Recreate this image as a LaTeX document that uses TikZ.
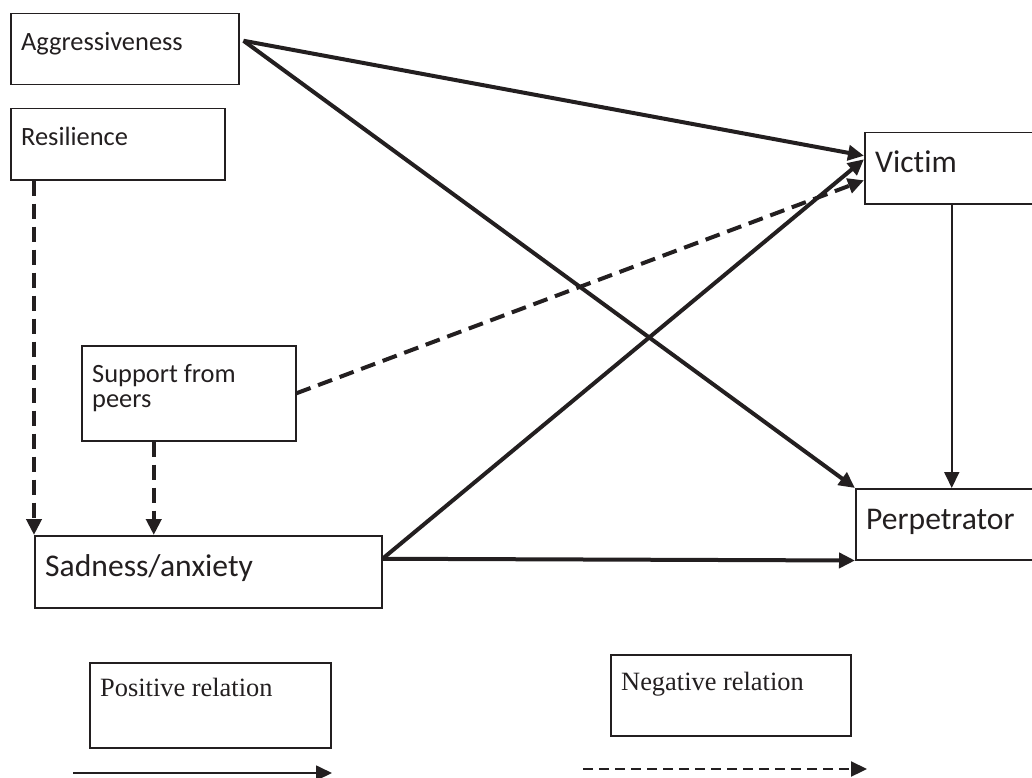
\documentclass[tikz,border=0pt]{standalone}
\usepackage{fontspec}
\usepackage{xcolor}
\usepackage{tikz}
\usetikzlibrary{arrows.meta}
\setmainfont{Carlito}[Ligatures=NoCommon]
\newfontfamily\legendfont{Liberation Serif}
\definecolor{inkgray}{HTML}{231F20}

\tikzset{
  box/.style={draw=inkgray, line width=1.5pt, anchor=north west, inner sep=0pt},
  lbl/.style={anchor=north west, inner xsep=11pt, inner ysep=19pt, text=inkgray,
              font=\fontsize{26.4}{30}\selectfont},
  biglbl/.style={lbl, font=\fontsize{31.6}{38}\selectfont},
  leglbl/.style={lbl, font=\legendfont\fontsize{26.4}{30}\selectfont},
  posrel/.style={draw=inkgray, line width=4pt, -{Triangle[length=16pt,width=15pt]}},
  negrel/.style={posrel, dash pattern=on 15pt off 8pt},
  thinrel/.style={draw=inkgray, line width=1.8pt, -{Triangle[length=16pt,width=15pt]}}
}

\begin{document}
\begin{tikzpicture}[x=1pt, y=-1pt]
    \useasboundingbox (0,0) rectangle (1032,778);

    % variables
    \node[box, minimum width=228pt, minimum height=71pt,
          label={[lbl]north west:Aggressiveness}] (aggr) at (10,13) {};
    \node[box, minimum width=214pt, minimum height=71pt,
          label={[lbl]north west:Resilience}] (resil) at (10,108) {};
    \node[box, minimum width=214pt, minimum height=95pt,
          label={[lbl, align=left, font=\fontsize{26.4}{25}\selectfont]north west:Support from\\peers}] (support) at (81,345) {};
    \node[box, minimum width=347pt, minimum height=72pt,
          label={[biglbl]north west:Sadness/anxiety}] (sad) at (34,535) {};
    \node[box, minimum width=174pt, minimum height=71pt,
          label={[biglbl]north west:Victim}] (victim) at (864,132) {};
    \node[box, minimum width=192pt, minimum height=71pt,
          label={[biglbl, inner ysep=21pt]north west:Perpetrator}] (perp) at (855,488) {};

    % legend
    \node[box, minimum width=241pt, minimum height=85pt,
          label={[leglbl, inner ysep=16pt]north west:Positive relation}] (posbox) at (89,662) {};
    \node[box, minimum width=240pt, minimum height=81pt,
          label={[leglbl, inner ysep=18pt]north west:Negative relation}] (negbox) at (610,654) {};
    \coordinate (posstart) at (73,773);
    \coordinate (posend) at (332,773);
    \coordinate (negstart) at (583,769);
    \coordinate (negend) at (867,769);

    % relations
    \draw[posrel] ([xshift=4pt, yshift=8.5pt]aggr.east) -- ([yshift=12.5pt]victim.west);
    \draw[posrel] ([xshift=4pt, yshift=8.5pt]aggr.east) -- (perp.north west);
    \draw[negrel] (support.east) -- ([yshift=-12pt]victim.west);
    \draw[posrel] ([yshift=13pt]sad.east) -- ([yshift=9pt]victim.west);
    \draw[posrel] ([yshift=13pt]sad.east) -- (perp.south west);
    \draw[negrel] (sad.north west |- resil.south) -- (sad.north west);
    \draw[negrel] ([xshift=-35pt]support.south) -- ([xshift=-35pt]support.south |- sad.north);
    \draw[thinrel] (victim.south) -- (victim.south |- perp.north);

    \draw[thinrel] (posstart) -- (posend);
    \draw[thinrel, line width=2.2pt, dash pattern=on 10pt off 6pt] (negstart) -- (negend);
\end{tikzpicture}
\end{document}
